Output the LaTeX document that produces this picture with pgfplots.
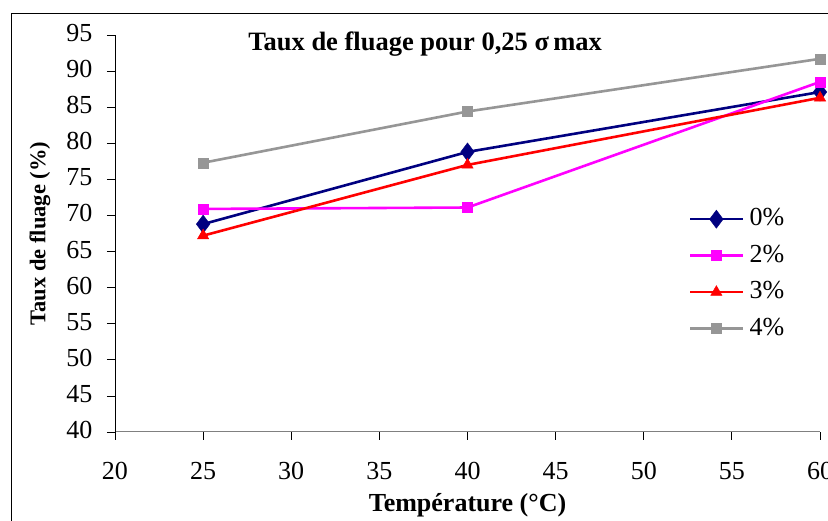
\documentclass[border=0pt]{standalone}
\usepackage{pgfplots}
\pgfplotsset{compat=1.18}
\usepackage{fontspec}
\setmainfont{Liberation Serif}
\definecolor{cnavy}{RGB}{0,0,128}
\definecolor{cmag}{RGB}{255,0,255}
\definecolor{cred}{RGB}{255,0,0}
\definecolor{cgray}{RGB}{150,150,150}
\begin{document}
\begin{tikzpicture}
\useasboundingbox (-115pt,-89pt) rectangle (713pt,432pt);
\fill[white] (-115pt,-89pt) rectangle (713pt,432pt);
\draw[black, line width=1pt] (-103pt,-200pt) rectangle (900pt,418pt);
\begin{axis}[
  at={(0pt,0pt)}, anchor=south west,
  scale only axis, width=705pt, height=397pt,
  xmin=20, xmax=60, ymin=40, ymax=95,
  xtick={20,25,...,60}, ytick={40,45,...,95},
  axis x line*=bottom, axis y line*=left,
  axis line style={-},
  x axis line style={draw=gray, line width=1pt},
  y axis line style={draw=black, line width=0.8pt},
  tick align=outside, major tick length=8pt,
  xtick style={draw=black, line width=0.8pt},
  ytick style={draw=black, line width=0.8pt},
  ticklabel style={font=\fontsize{26}{30}\selectfont},
  yticklabel style={xshift=-11pt, yshift=2pt},
  xticklabel style={yshift=-19pt},
  /pgf/number format/assume math mode=true,
  xlabel={\textbf{Température (°C)}},
  ylabel={\textbf{Taux de fluage (\%)}},
  xlabel style={at={(rel axis cs:0.5,0)}, anchor=center, yshift=-73pt, font=\fontsize{26}{30}\selectfont},
  ylabel style={at={(rel axis cs:0,0.5)}, anchor=center, yshift=75pt, font=\fontsize{22.5}{26}\selectfont},
  title={\textbf{Taux de fluage pour 0,25 σ\,max}},
  title style={at={(rel axis cs:0.44,0.945)}, anchor=base, font=\fontsize{26.5}{30}\selectfont},
  legend style={at={(rel axis cs:0.814,0.5655)}, anchor=north west, draw=none, fill=none,
    inner sep=0pt,
    font=\fontsize{26}{30}\selectfont, row sep=13.5pt, column sep=0pt,
    nodes={inner sep=0pt, text height=18pt, text depth=5pt}},
  legend cell align=left,
  legend image code/.code={
    \draw[mark repeat=2, mark phase=2, #1] plot coordinates {(0pt,0pt) (26pt,0pt) (53pt,0pt)};
  },
  every axis plot/.append style={line width=2.6pt},
  clip=false,
]
\addplot[color=cnavy, mark=diamond*, mark size=9pt, mark options={solid, line width=0.5pt}]
  coordinates {(25,68.8) (40,78.8) (60,87.1)};
\addlegendentry{\hspace{5pt}0\%}
\addplot[color=cmag, mark=square*, mark size=5pt, mark options={solid, line width=0.5pt}]
  coordinates {(25,70.9) (40,71.1) (60,88.5)};
\addlegendentry{\hspace{5pt}2\%}
\addplot[color=cred, mark=triangle*, mark size=6.5pt, mark options={solid, line width=0.5pt}]
  coordinates {(25,67.2) (40,77.0) (60,86.3)};
\addlegendentry{\hspace{5pt}3\%}
\addplot[color=cgray, mark=square*, mark size=5pt, mark options={solid, line width=0.5pt}]
  coordinates {(25,77.3) (40,84.4) (60,91.7)};
\addlegendentry{\hspace{5pt}4\%}
\end{axis}
\end{tikzpicture}
\end{document}
